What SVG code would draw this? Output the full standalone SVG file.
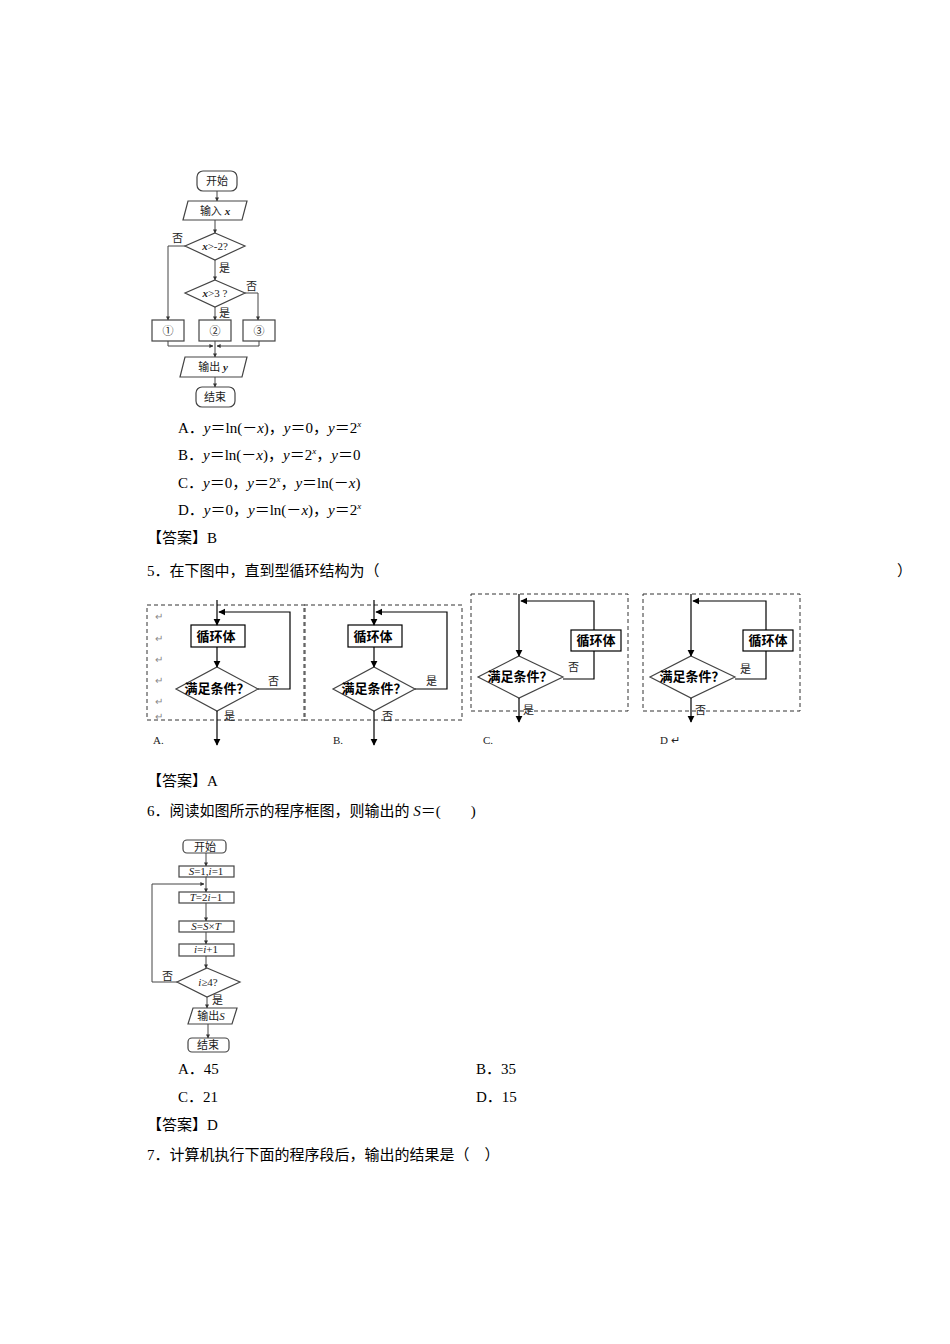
<svg xmlns="http://www.w3.org/2000/svg" width="950" height="1344" viewBox="0 0 950 1344">
<defs>
<marker id="ah" viewBox="0 0 10 10" refX="9" refY="5" markerWidth="6" markerHeight="6" orient="auto"><path d="M0,0L10,5L0,10z" fill="#000"/></marker>
<marker id="as" viewBox="0 0 10 10" refX="9" refY="5" markerWidth="4" markerHeight="4" orient="auto"><path d="M0,0L10,5L0,10z" fill="#333"/></marker>
</defs>
<style>
.t{font-family:"Liberation Serif","Noto Sans CJK SC",serif;font-size:15px;fill:#000}
.s{font-family:"Liberation Serif","Noto Sans CJK SC",serif;font-size:11px;fill:#222}
.b{font-family:"Liberation Serif","Noto Sans CJK SC",serif;font-size:13px;font-weight:bold;fill:#000}
.f{fill:#fff;stroke:#444;stroke-width:1.2}
.l{fill:none;stroke:#444;stroke-width:1}
.k{fill:none;stroke:#000;stroke-width:1.2}
.kf{fill:#fff;stroke:#000;stroke-width:1.2}
.dl{fill:none;stroke:#333;stroke-width:1;stroke-dasharray:4,3}
.g{fill:#888;font-family:"Liberation Serif",serif;font-size:10px}
</style>
<rect width="950" height="1344" fill="#fff"/>

<!-- Flowchart 1 -->
<g id="f1-start"><rect class="f" x="197" y="171" width="40" height="20" rx="6"/><text class="s" x="217" y="185" text-anchor="middle">开始</text></g>
<g id="f1-input"><polygon class="f" points="188,201 247,201 242,220 183,220"/><text class="s" x="215" y="215" text-anchor="middle">输入 <tspan font-style="italic" font-weight="bold">x</tspan></text></g>
<g id="f1-d1"><polygon class="f" points="215,233 245,246 215,260 185,246"/><text class="s" x="215" y="250" text-anchor="middle"><tspan font-style="italic" font-weight="bold">x</tspan>&gt;-2?</text></g>
<g id="f1-d2"><polygon class="f" points="215,280 245,293 215,307 185,293"/><text class="s" x="215" y="297" text-anchor="middle"><tspan font-style="italic" font-weight="bold">x</tspan>&gt;3 ?</text></g>
<g id="f1-b1"><rect class="f" x="152" y="320" width="32" height="21"/><text class="s" x="168" y="335" text-anchor="middle">①</text></g>
<g id="f1-b2"><rect class="f" x="199" y="320" width="32" height="21"/><text class="s" x="215" y="335" text-anchor="middle">②</text></g>
<g id="f1-b3"><rect class="f" x="243" y="320" width="32" height="21"/><text class="s" x="259" y="335" text-anchor="middle">③</text></g>
<g id="f1-out"><polygon class="f" points="185,357 247,357 242,377 180,377"/><text class="s" x="213" y="371" text-anchor="middle">输出 <tspan font-style="italic" font-weight="bold">y</tspan></text></g>
<g id="f1-end"><rect class="f" x="196" y="387" width="39" height="20" rx="6"/><text class="s" x="215" y="401" text-anchor="middle">结束</text></g>
<g id="f1-conn">
<path class="l" d="M217,191V201" marker-end="url(#as)"/>
<path class="l" d="M215,220V233" marker-end="url(#as)"/>
<path class="l" d="M215,260V280" marker-end="url(#as)"/>
<path class="l" d="M185,246H168V320" marker-end="url(#as)"/>
<path class="l" d="M245,293H258V320" marker-end="url(#as)"/>
<path class="l" d="M215,307V320" marker-end="url(#as)"/>
<path class="l" d="M168,341V346H213" marker-end="url(#as)"/>
<path class="l" d="M259,341V346H217" marker-end="url(#as)"/>
<path class="l" d="M215,341V357" marker-end="url(#as)"/>
<path class="l" d="M215,377V387" marker-end="url(#as)"/>
<text class="s" x="172" y="242">否</text>
<text class="s" x="219" y="272">是</text>
<text class="s" x="246" y="290">否</text>
<text class="s" x="219" y="317">是</text>
</g>

<text class="t" x="178" y="433">A．<tspan font-style="italic">y</tspan>＝ln(－<tspan font-style="italic">x</tspan>)，<tspan font-style="italic">y</tspan>＝0，<tspan font-style="italic">y</tspan>＝2<tspan font-size="9" dy="-6" font-style="italic">x</tspan></text>
<text class="t" x="178" y="460">B．<tspan font-style="italic">y</tspan>＝ln(－<tspan font-style="italic">x</tspan>)，<tspan font-style="italic">y</tspan>＝2<tspan font-size="9" dy="-6" font-style="italic">x</tspan><tspan dy="6">，</tspan><tspan font-style="italic">y</tspan>＝0</text>
<text class="t" x="178" y="488">C．<tspan font-style="italic">y</tspan>＝0，<tspan font-style="italic">y</tspan>＝2<tspan font-size="9" dy="-6" font-style="italic">x</tspan><tspan dy="6">，</tspan><tspan font-style="italic">y</tspan>＝ln(－<tspan font-style="italic">x</tspan>)</text>
<text class="t" x="178" y="515">D．<tspan font-style="italic">y</tspan>＝0，<tspan font-style="italic">y</tspan>＝ln(－<tspan font-style="italic">x</tspan>)，<tspan font-style="italic">y</tspan>＝2<tspan font-size="9" dy="-6" font-style="italic">x</tspan></text>
<text class="t" x="147" y="543">【答案】B</text>
<text class="t" x="147" y="576">5．在下图中，直到型循环结构为（</text>
<text class="t" x="897" y="576">）</text>

<!-- Loop A -->
<g id="loopA">
<rect class="dl" x="147" y="605" width="158" height="115"/>
<rect class="kf" x="191" y="625" width="54" height="22"/><text class="b" x="216" y="641" text-anchor="middle">循环体</text>
<polygon class="f" points="217,667 258,689 217,711 176,689"/><text class="b" x="217" y="693" text-anchor="middle" font-size="12">满足条件？</text>
<path class="k" d="M217,600V625" marker-end="url(#ah)"/>
<path class="k" d="M217,647V667" marker-end="url(#ah)"/>
<path class="k" d="M258,689H290V612H219" marker-end="url(#ah)"/>
<path class="k" d="M217,711V745" marker-end="url(#ah)"/>
<text class="s" x="268" y="685">否</text><text class="s" x="224" y="720">是</text>
<text class="g" x="155" y="620">↵</text><text class="g" x="155" y="642">↵</text><text class="g" x="155" y="663">↵</text><text class="g" x="155" y="684">↵</text><text class="g" x="155" y="705">↵</text><text class="g" x="155" y="720">↵</text>
<text class="s" x="153" y="744">A.</text>
</g>
<!-- Loop B -->
<g id="loopB">
<rect class="dl" x="304" y="605" width="158" height="115"/>
<rect class="kf" x="348" y="625" width="54" height="22"/><text class="b" x="373" y="641" text-anchor="middle">循环体</text>
<polygon class="f" points="374,667 415,689 374,711 333,689"/><text class="b" x="374" y="693" text-anchor="middle" font-size="12">满足条件？</text>
<path class="k" d="M374,600V625" marker-end="url(#ah)"/>
<path class="k" d="M374,647V667" marker-end="url(#ah)"/>
<path class="k" d="M415,689H447V612H376" marker-end="url(#ah)"/>
<path class="k" d="M374,711V745" marker-end="url(#ah)"/>
<text class="s" x="426" y="685">是</text><text class="s" x="382" y="720">否</text>
<text class="s" x="333" y="744">B.</text>
</g>
<!-- Loop C -->
<g id="loopC">
<rect class="dl" x="471" y="594" width="157" height="117"/>
<polygon class="f" points="519,656 563,677 519,698 478,677"/><text class="b" x="520" y="681" text-anchor="middle" font-size="12">满足条件？</text>
<rect class="kf" x="571" y="630" width="50" height="21"/><text class="b" x="596" y="645" text-anchor="middle">循环体</text>
<path class="k" d="M519,594V656" marker-end="url(#ah)"/>
<path class="k" d="M563,679H594V651M594,630V601H521" marker-end="url(#ah)"/>
<path class="k" d="M519,698V722" marker-end="url(#ah)"/>
<text class="s" x="568" y="671">否</text><text class="s" x="523" y="714">是</text>
<text class="s" x="483" y="744">C.</text>
</g>
<!-- Loop D -->
<g id="loopD">
<rect class="dl" x="643" y="594" width="157" height="117"/>
<polygon class="f" points="691,656 735,677 691,698 650,677"/><text class="b" x="692" y="681" text-anchor="middle" font-size="12">满足条件？</text>
<rect class="kf" x="743" y="630" width="50" height="21"/><text class="b" x="768" y="645" text-anchor="middle">循环体</text>
<path class="k" d="M691,594V656" marker-end="url(#ah)"/>
<path class="k" d="M735,679H766V651M766,630V601H693" marker-end="url(#ah)"/>
<path class="k" d="M691,698V722" marker-end="url(#ah)"/>
<text class="s" x="740" y="673">是</text><text class="s" x="695" y="714">否</text>
<text class="s" x="660" y="744">D ↵</text>
</g>

<text class="t" x="147" y="786">【答案】A</text>
<text class="t" x="147" y="816">6．阅读如图所示的程序框图，则输出的 <tspan font-style="italic">S</tspan>＝(　　)</text>

<!-- Flowchart 3 -->
<g id="f3-start"><rect class="f" x="183" y="840" width="43" height="13" rx="4"/><text class="s" x="205" y="851" text-anchor="middle" font-size="10">开始</text></g>
<g id="f3-init"><rect class="f" x="179" y="866" width="55" height="11"/><text class="s" x="206" y="875" text-anchor="middle" font-size="9"><tspan font-style="italic">S</tspan>=1,<tspan font-style="italic">i</tspan>=1</text></g>
<g id="f3-t"><rect class="f" x="179" y="892" width="55" height="11"/><text class="s" x="206" y="901" text-anchor="middle" font-size="9"><tspan font-style="italic">T</tspan>=2<tspan font-style="italic">i</tspan>−1</text></g>
<g id="f3-s"><rect class="f" x="179" y="921" width="55" height="11"/><text class="s" x="206" y="930" text-anchor="middle" font-size="9"><tspan font-style="italic">S</tspan>=<tspan font-style="italic">S</tspan>×<tspan font-style="italic">T</tspan></text></g>
<g id="f3-i"><rect class="f" x="179" y="944" width="55" height="12"/><text class="s" x="206" y="953" text-anchor="middle" font-size="9"><tspan font-style="italic">i</tspan>=<tspan font-style="italic">i</tspan>+1</text></g>
<g id="f3-d"><polygon class="f" points="207,968 240,982 207,997 177,982"/><text class="s" x="208" y="986" text-anchor="middle" font-size="9"><tspan font-style="italic">i</tspan>≥4?</text></g>
<g id="f3-out"><polygon class="f" points="193,1008 237,1008 232,1024 188,1024"/><text class="s" x="211" y="1020" text-anchor="middle" font-size="10">输出<tspan font-style="italic">S</tspan></text></g>
<g id="f3-end"><rect class="f" x="188" y="1038" width="41" height="14" rx="4"/><text class="s" x="208" y="1049" text-anchor="middle" font-size="10">结束</text></g>
<g id="f3-conn">
<path class="l" d="M206,853V866" marker-end="url(#as)"/>
<path class="l" d="M206,877V892" marker-end="url(#as)"/>
<path class="l" d="M206,903V921" marker-end="url(#as)"/>
<path class="l" d="M206,932V944" marker-end="url(#as)"/>
<path class="l" d="M206,956V968" marker-end="url(#as)"/>
<path class="l" d="M177,982H152V884H204" marker-end="url(#as)"/>
<path class="l" d="M207,997V1008" marker-end="url(#as)"/>
<path class="l" d="M208,1024V1038" marker-end="url(#as)"/>
<text class="s" x="162" y="980" font-size="10">否</text>
<text class="s" x="212" y="1004" font-size="10">是</text>
</g>

<text class="t" x="178" y="1074">A．45</text><text class="t" x="476" y="1074">B．35</text>
<text class="t" x="178" y="1102">C．21</text><text class="t" x="476" y="1102">D．15</text>
<text class="t" x="147" y="1130">【答案】D</text>
<text class="t" x="147" y="1160">7．计算机执行下面的程序段后，输出的结果是（　）</text>
</svg>
